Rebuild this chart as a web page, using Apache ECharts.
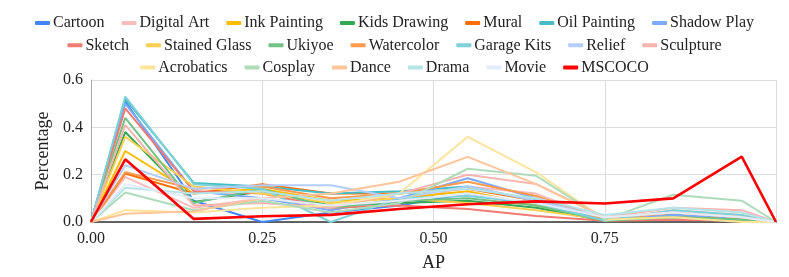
<!DOCTYPE html>
<html><head><meta charset="utf-8">
<script src="https://cdn.jsdelivr.net/npm/echarts@6/dist/echarts.min.js"></script>
<style>html,body{margin:0;padding:0;background:#fff}#c{width:789px;height:277px}</style>
</head><body><div id="c"></div>
<script>
const apBins = [0, 0.05, 0.15, 0.25, 0.35, 0.45, 0.55, 0.65, 0.75, 0.85, 0.95, 1.0];
const xTicks = [0, 0.25, 0.5, 0.75];
const yTicks = [0, 0.2, 0.4, 0.6];
const names = ["Cartoon","Digital Art","Ink Painting","Kids Drawing","Mural","Oil Painting","Shadow Play",
  "Sketch","Stained Glass","Ukiyoe","Watercolor","Garage Kits","Relief","Sculpture",
  "Acrobatics","Cosplay","Dance","Drama","Movie","MSCOCO"];
const colors = ["#4285F4","#F9BDBD","#FBBC04","#34A853","#FF6D01","#46BDC6","#7BAAF7",
  "#F07B72","#FCD04F","#71C287","#FF994D","#7ED1D7","#B3CEFB","#F7B4AE",
  "#FDE49B","#AEDCBA","#FFC599","#B5E3E7","#E3ECFC","#FF0000"];
const cartoon     = [0, 0.51, 0.09, 0.00, 0.04, 0.07, 0.12, 0.07, 0.01, 0.02, 0.01, 0];
const digitalArt  = [0, 0.19, 0.06, 0.10, 0.06, 0.08, 0.15, 0.12, 0.01, 0.05, 0.03, 0];
const inkPainting = [0, 0.30, 0.12, 0.14, 0.09, 0.10, 0.13, 0.07, 0.01, 0.03, 0.01, 0];
const kidsDrawing = [0, 0.38, 0.085, 0.13, 0.07, 0.08, 0.09, 0.06, 0.005, 0.02, 0.01, 0];
const mural       = [0, 0.205, 0.12, 0.16, 0.12, 0.12, 0.14, 0.09, 0.01, 0.03, 0.02, 0];
const oilPainting = [0, 0.52, 0.165, 0.15, 0.12, 0.13, 0.15, 0.09, 0.01, 0.03, 0.02, 0];
const shadowPlay  = [0, 0.50, 0.13, 0.10, 0.05, 0.10, 0.185, 0.10, 0.01, 0.03, 0.02, 0];
const sketch      = [0, 0.48, 0.13, 0.12, 0.06, 0.07, 0.055, 0.025, 0.005, 0.01, 0.005, 0];
const stainedGlass= [0, 0.36, 0.15, 0.12, 0.08, 0.10, 0.08, 0.05, 0.01, 0.02, 0.005, 0];
const ukiyoe      = [0, 0.44, 0.08, 0.14, 0.06, 0.09, 0.10, 0.07, 0.005, 0.02, 0.01, 0];
const watercolor  = [0, 0.21, 0.14, 0.15, 0.10, 0.12, 0.17, 0.11, 0.01, 0.04, 0.02, 0];
const garageKits  = [0, 0.53, 0.16, 0.14, 0.00, 0.10, 0.11, 0.08, 0.005, 0.05, 0.03, 0];
const relief      = [0, 0.24, 0.14, 0.155, 0.155, 0.10, 0.15, 0.09, 0.02, 0.04, 0.02, 0];
const sculpture   = [0, 0.41, 0.07, 0.08, 0.06, 0.12, 0.20, 0.16, 0.02, 0.06, 0.05, 0];
const acrobatics  = [0, 0.05, 0.04, 0.06, 0.07, 0.12, 0.36, 0.21, 0.01, 0.02, 0.00, 0];
const cosplay     = [0, 0.125, 0.05, 0.09, 0.04, 0.08, 0.225, 0.195, 0.01, 0.115, 0.09, 0];
const dance       = [0, 0.035, 0.045, 0.10, 0.12, 0.17, 0.275, 0.16, 0.02, 0.04, 0.02, 0];
const drama       = [0, 0.145, 0.12, 0.13, 0.09, 0.12, 0.14, 0.10, 0.03, 0.06, 0.04, 0];
const movie       = [0, 0.16, 0.10, 0.10, 0.07, 0.09, 0.12, 0.08, 0.02, 0.04, 0.02, 0];
const mscoco      = [0, 0.265, 0.013, 0.024, 0.03, 0.055, 0.075, 0.087, 0.078, 0.10, 0.276, 0];
const values = [cartoon,digitalArt,inkPainting,kidsDrawing,mural,oilPainting,shadowPlay,sketch,stainedGlass,
  ukiyoe,watercolor,garageKits,relief,sculpture,acrobatics,cosplay,dance,drama,movie,mscoco];

const FONT = 'Liberation Serif';
const series = names.map((n, i) => ({
  name: n, type: 'line', showSymbol: false, symbol: 'none',
  data: apBins.map((x, j) => [x, values[i][j]]),
  lineStyle: { width: n === 'MSCOCO' ? 2.6 : 2, color: colors[i] },
  itemStyle: { color: colors[i] },
  z: n === 'MSCOCO' ? 10 : 2,
  emphasis: { disabled: true }
}));
const rows = [names.slice(0, 7), names.slice(7, 14), names.slice(14)];
const legend = rows.map((r, k) => ({
  data: r, left: 'center', top: 15 + k * 22.3, itemWidth: 15, itemHeight: 4, itemGap: 17,
  icon: 'roundRect', padding: 0,
  textStyle: { fontFamily: FONT, fontSize: 16, color: '#222', padding: [0, 0, 0, -2] }
}));
const chart = echarts.init(document.getElementById('c'), null, { renderer: 'canvas' });
chart.setOption({
  animation: false,
  textStyle: { fontFamily: FONT },
  color: colors,
  legend: legend,
  grid: { left: 91, right: 13, top: 80, bottom: 50, containLabel: false },
  xAxis: {
    type: 'value', min: 0, max: 1, interval: 0.25,
    name: 'AP', nameLocation: 'middle', nameGap: 32,
    nameTextStyle: { fontFamily: FONT, fontSize: 18, color: '#222' },
    axisLine: { show: true, lineStyle: { color: '#333', width: 1.5 } },
    axisTick: { show: false },
    axisLabel: { fontFamily: FONT, fontSize: 16, color: '#222', margin: 9,
      formatter: v => xTicks.some(t => Math.abs(t - v) < 1e-9) ? v.toFixed(2) : '' },
    splitLine: { show: true, lineStyle: { color: '#dcdcdc', width: 1 } }
  },
  yAxis: {
    type: 'value', min: 0, max: 0.6, interval: 0.2,
    name: 'Percentage', nameLocation: 'middle', nameGap: 35, nameRotate: 90,
    nameTextStyle: { fontFamily: FONT, fontSize: 18, color: '#222' },
    axisLine: { show: true, lineStyle: { color: '#aaa', width: 1 } },
    axisTick: { show: false },
    axisLabel: { fontFamily: FONT, fontSize: 16, color: '#222', margin: 8,
      formatter: v => yTicks.some(t => Math.abs(t - v) < 1e-9) ? v.toFixed(1) : '' },
    splitLine: { show: true, lineStyle: { color: '#dcdcdc', width: 1 } }
  },
  series: series
});
</script></body></html>
